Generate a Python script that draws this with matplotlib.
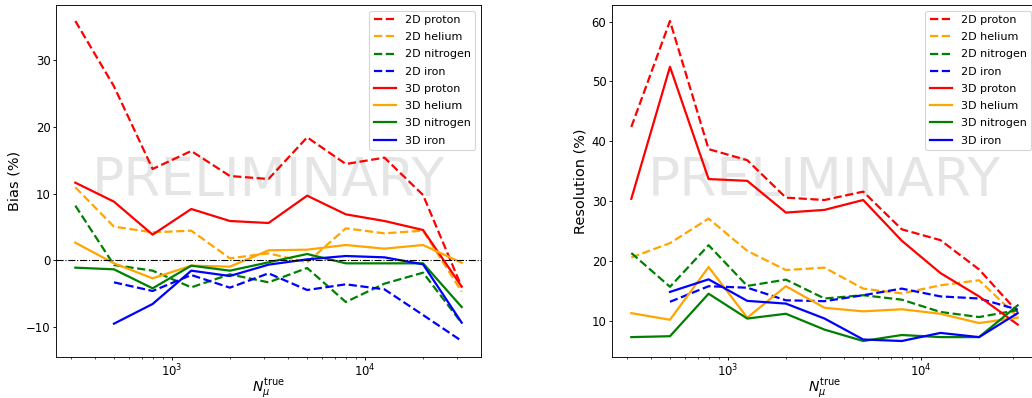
import numpy as np
import matplotlib
matplotlib.use("Agg")
import matplotlib.pyplot as plt

# N_mu^true bin centres
n_true = [316, 501, 794, 1259, 1995, 3162, 5012, 7943, 12589, 19953, 31623]

# Bias (%)
bias_2d_proton = [35.9, 26.1, 13.7, 16.4, 12.65, 12.2, 18.45, 14.45, 15.4, 9.8, -4.0]
bias_2d_helium = [10.95, 5.05, 4.2, 4.45, 0.3, 1.05, -0.3, 4.8, 4.05, 4.45, -4.7]
bias_2d_nitrogen = [8.2, -0.7, -1.55, -4.05, -2.1, -3.3, -1.15, -6.25, -3.5, -1.85, -9.4]
bias_2d_iron = [-3.3, -4.6, -2.2, -4.1, -1.95, -4.45, -3.6, -4.35, -8.2, -12.1]   # from 2nd bin
bias_3d_proton = [11.65, 8.8, 3.85, 7.7, 5.9, 5.6, 9.7, 6.9, 5.9, 4.55, -3.95]
bias_3d_helium = [2.65, -0.45, -2.7, -0.8, -0.95, 1.5, 1.6, 2.3, 1.75, 2.3, -0.36]
bias_3d_nitrogen = [-1.1, -1.35, -4.2, -0.8, -1.55, -0.3, 0.95, -0.45, -0.45, -0.45, -7.0]
bias_3d_iron = [-9.5, -6.55, -1.55, -2.35, -0.65, 0.15, 0.65, 0.45, -0.6, -9.35]  # from 2nd bin

# Resolution (%)
res_2d_proton = [42.4, 60.1, 38.7, 36.85, 30.6, 30.2, 31.6, 25.3, 23.5, 18.6, 11.5]
res_2d_helium = [20.6, 23.0, 27.1, 21.7, 18.5, 18.9, 15.4, 14.6, 15.95, 16.8, 10.7]
res_2d_nitrogen = [21.35, 15.7, 22.65, 15.85, 16.9, 13.75, 14.3, 13.55, 11.5, 10.65, 11.8]
res_2d_iron = [13.2, 15.8, 15.55, 13.45, 13.3, 14.3, 15.4, 14.1, 13.75, 11.9]   # from 2nd bin
res_3d_proton = [30.4, 52.45, 33.7, 33.4, 28.1, 28.55, 30.2, 23.4, 18.0, 14.1, 9.4]
res_3d_helium = [11.3, 10.2, 19.0, 10.55, 15.8, 12.2, 11.6, 11.95, 11.2, 9.65, 10.55]
res_3d_nitrogen = [7.3, 7.45, 14.55, 10.4, 11.2, 8.55, 6.65, 7.65, 7.3, 7.3, 12.6]
res_3d_iron = [14.85, 16.95, 13.35, 12.9, 10.4, 6.9, 6.65, 8.0, 7.3, 11.3]     # from 2nd bin

species = ["proton", "helium", "nitrogen", "iron"]
colors = ["red", "orange", "green", "blue"]

bias_2d = [bias_2d_proton, bias_2d_helium, bias_2d_nitrogen, bias_2d_iron]
bias_3d = [bias_3d_proton, bias_3d_helium, bias_3d_nitrogen, bias_3d_iron]
res_2d = [res_2d_proton, res_2d_helium, res_2d_nitrogen, res_2d_iron]
res_3d = [res_3d_proton, res_3d_helium, res_3d_nitrogen, res_3d_iron]

fig = plt.figure(figsize=(12.9, 4.975), dpi=80)
ax1 = fig.add_axes([56 / 1032, 41 / 398, 425 / 1032, 352 / 398])
ax2 = fig.add_axes([612 / 1032, 41 / 398, 425 / 1032, 352 / 398])


def draw(ax, d2, d3, ylabel):
    for name, c, y in zip(species, colors, d2):
        ax.plot(n_true[len(n_true) - len(y):], y, ls="--", color=c, lw=2, label=f"2D {name}")
    for name, c, y in zip(species, colors, d3):
        ax.plot(n_true[len(n_true) - len(y):], y, ls="-", color=c, lw=2, label=f"3D {name}")
    ax.set_xscale("log")
    ax.set_xlabel(r"$N_\mu^{\rm true}$", fontsize=12.5, labelpad=-2.5)
    ax.set_ylabel(ylabel, fontsize=13)
    ax.tick_params(which="major", labelsize=10.5, length=2.5, pad=2.5)
    ax.tick_params(which="minor", length=1.5)
    ax.legend(loc="upper right", fontsize=10, labelspacing=0.65)
    ax.text(0.5, 0.5, "PRELIMINARY", transform=ax.transAxes, fontsize=48,
            color="grey", alpha=0.2, ha="center", va="center", zorder=0)


draw(ax1, bias_2d, bias_3d, "Bias (%)")
ax1.axhline(0, color="k", ls="-.", lw=1)
draw(ax2, res_2d, res_3d, "Resolution (%)")

fig.savefig("out.png", dpi=80)
